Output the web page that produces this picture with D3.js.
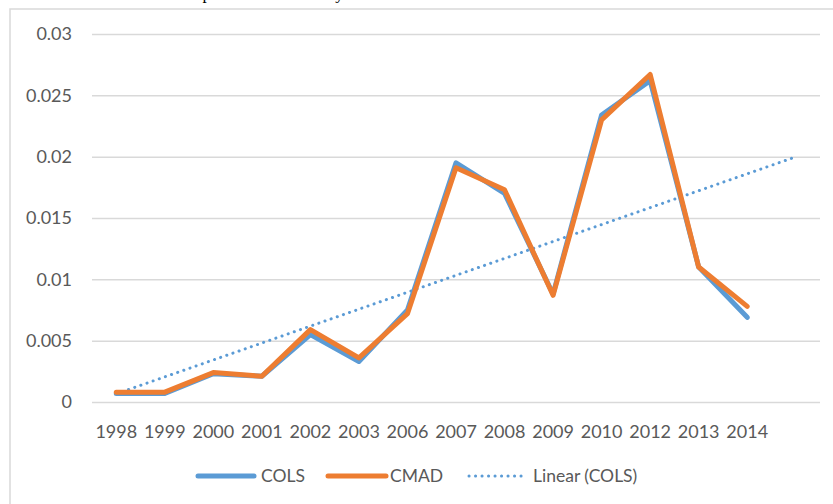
<!DOCTYPE html>
<html>
<head>
<meta charset="utf-8">
<script src="https://cdn.jsdelivr.net/npm/d3@7"></script>
<style>
  body { margin: 0; background: #fff; }
  svg { display: block; }
</style>
</head>
<body>
<svg id="chart"></svg>
<script>
document.addEventListener("DOMContentLoaded", function() {

    var width = 833;
    var height = 504;

    // categories (last one is the empty slot the trendline is forecast into)
    var years = ["1998", "1999", "2000", "2001", "2002", "2003", "2006", "2007",
                 "2008", "2009", "2010", "2012", "2013", "2014", ""];

    var cols = [0.0007, 0.0007, 0.0023, 0.0021, 0.0055, 0.0033, 0.0075, 0.0195,
                0.0170, 0.0088, 0.0234, 0.0262, 0.0110, 0.0069];
    var cmad = [0.0008, 0.0008, 0.0024, 0.0021, 0.0059, 0.0036, 0.0072, 0.0191,
                0.0173, 0.0087, 0.0230, 0.0267, 0.0110, 0.0078];

    var yTicks = [0, 0.005, 0.01, 0.015, 0.02, 0.025, 0.03];
    var yTickLabels = ["0", "0.005", "0.01", "0.015", "0.02", "0.025", "0.03"];

    var blue = "#5B9BD5";
    var orange = "#ED7D31";
    var font = "Lato, 'Open Sans', sans-serif";

    var svg = d3.select("#chart")
        .attr("width", width)
        .attr("height", height);

    // caption of the page above, mostly cut off
    svg.append("text")
        .attr("x", 118)
        .attr("y", -1)
        .attr("font-family", "'Liberation Serif', serif")
        .attr("font-size", 17)
        .attr("fill", "#000")
        .text("CMAD compared with COLS by model");

    // chart frame
    svg.append("rect")
        .attr("x", 10)
        .attr("y", 9)
        .attr("width", 840)
        .attr("height", 520)
        .attr("fill", "none")
        .attr("stroke", "#d9d9d9")
        .attr("stroke-width", 1.5);

    var x = d3.scaleBand()
        .domain(years)
        .range([92, 820]);

    var y = d3.scaleLinear()
        .domain([0, 0.03])
        .range([402, 34]);

    // gridlines
    svg.append("g")
        .attr("transform", "translate(92,0)")
        .call(d3.axisLeft(y).tickValues(yTicks).tickSize(-(820 - 92)).tickFormat(""))
        .call(g => g.select(".domain").remove())
        .call(g => g.selectAll("line").attr("stroke", "#d9d9d9").attr("stroke-width", 1.5));

    // y labels
    svg.append("g")
        .attr("transform", "translate(72,0)")
        .call(d3.axisLeft(y).tickValues(yTicks).tickSize(0).tickPadding(0)
            .tickFormat((d, i) => yTickLabels[i]))
        .call(g => g.select(".domain").remove())
        .call(g => g.selectAll("text")
            .attr("font-family", font)
            .attr("font-size", 18)
            .attr("fill", "#595959"));

    // x labels
    svg.append("g")
        .attr("transform", "translate(0,424)")
        .call(d3.axisBottom(x).tickSize(0).tickPadding(0))
        .call(g => g.select(".domain").remove())
        .call(g => g.selectAll("text")
            .attr("font-family", font)
            .attr("font-size", 18)
            .attr("fill", "#595959")
            .attr("dy", "0.76em"));

    var cx = (d, i) => x(years[i]) + x.bandwidth() / 2;

    // linear trendline of COLS (least squares over category index)
    var mx = d3.mean(cols, (d, i) => i);
    var my = d3.mean(cols);
    var sxy = d3.sum(cols, (d, i) => (i - mx) * (d - my));
    var sxx = d3.sum(cols, (d, i) => (i - mx) * (i - mx));
    var slope = sxy / sxx;
    var icpt = my - slope * mx;
    var trend = [0, years.length - 1].map(i => ({ i: i, v: icpt + slope * i }));

    svg.append("path")
        .datum(trend)
        .attr("d", d3.line()
            .x(d => x(years[d.i]) + x.bandwidth() / 2)
            .y(d => y(d.v)))
        .attr("fill", "none")
        .attr("stroke", blue)
        .attr("stroke-width", 3)
        .attr("stroke-linecap", "round")
        .attr("stroke-dasharray", "0.1 6.4");

    var line = d3.line().x(cx).y(d => y(d));

    svg.append("path")
        .datum(cols)
        .attr("d", line)
        .attr("fill", "none")
        .attr("stroke", blue)
        .attr("stroke-width", 5)
        .attr("stroke-linejoin", "round")
        .attr("stroke-linecap", "round");

    svg.append("path")
        .datum(cmad)
        .attr("d", line)
        .attr("fill", "none")
        .attr("stroke", orange)
        .attr("stroke-width", 5)
        .attr("stroke-linejoin", "round")
        .attr("stroke-linecap", "round");

    // legend
    var legend = [
        { name: "COLS", color: blue, dash: null, x0: 198, x1: 254, tx: 261 },
        { name: "CMAD", color: orange, dash: null, x0: 328, x1: 386, tx: 390 },
        { name: "Linear (COLS)", color: blue, dash: "0.1 6.4", x0: 469, x1: 522, tx: 533 }
    ];
    var ly = 476;
    var lg = svg.append("g").selectAll("g").data(legend).enter().append("g");
    lg.append("line")
        .attr("x1", d => d.x0)
        .attr("x2", d => d.x1)
        .attr("y1", ly)
        .attr("y2", ly)
        .attr("stroke", d => d.color)
        .attr("stroke-width", d => d.dash ? 3 : 5)
        .attr("stroke-linecap", "round")
        .attr("stroke-dasharray", d => d.dash);
    lg.append("text")
        .attr("x", d => d.tx)
        .attr("y", ly)
        .attr("dy", "0.35em")
        .attr("font-family", font)
        .attr("font-size", 17.5)
        .attr("fill", "#595959")
        .text(d => d.name);
});
</script>
</body>
</html>
